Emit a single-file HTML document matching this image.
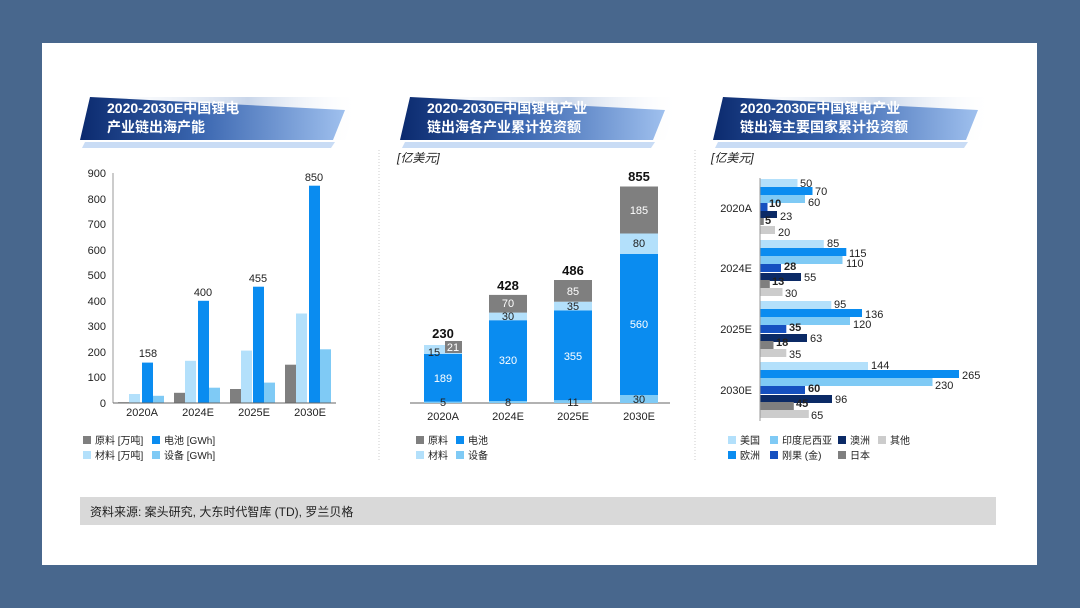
<!DOCTYPE html>
<html><head><meta charset="utf-8"><style>
body{margin:0;width:1080px;height:608px;background:#48678d;overflow:hidden}
svg{display:block}
text{font-family:"Liberation Sans","Noto Sans CJK SC",sans-serif}
</style></head><body>
<svg width="1080" height="608" viewBox="0 0 1080 608">
<defs>
<linearGradient id="g" x1="0" x2="1" y1="0" y2="0">
<stop offset="0" stop-color="#0b2a6e"/><stop offset="0.45" stop-color="#3a66b0"/><stop offset="1" stop-color="#9fc0ee"/></linearGradient>
<linearGradient id="g2" x1="0" x2="1"><stop offset="0" stop-color="#ffffff" stop-opacity="0"/><stop offset="0.6" stop-color="#c9d6ea"/><stop offset="1" stop-color="#ffffff" stop-opacity="0"/></linearGradient>
</defs>
<rect x="42" y="43" width="995" height="522" fill="#fff"/>
<!-- banners -->
<g>
<polygon points="90,97 360,97 345,140 80,140" fill="url(#g2)"/>
<polygon points="90,97 345,110 333,140 80,140" fill="url(#g)"/>
<polygon points="85,142 335,142 331,148 82,148" fill="#c9dcf5"/>
<text x="107" y="113" font-size="14" font-weight="bold" fill="#fff">2020-2030E中国锂电</text>
<text x="107" y="132" font-size="14" font-weight="bold" fill="#fff">产业链出海产能</text>
</g>
<g transform="translate(320,0)">
<polygon points="90,97 360,97 345,140 80,140" fill="url(#g2)"/>
<polygon points="90,97 345,110 333,140 80,140" fill="url(#g)"/>
<polygon points="85,142 335,142 331,148 82,148" fill="#c9dcf5"/>
<text x="107" y="113" font-size="14" font-weight="bold" fill="#fff">2020-2030E中国锂电产业</text>
<text x="107" y="132" font-size="14" font-weight="bold" fill="#fff">链出海各产业累计投资额</text>
</g>
<g transform="translate(633,0)">
<polygon points="90,97 360,97 345,140 80,140" fill="url(#g2)"/>
<polygon points="90,97 345,110 333,140 80,140" fill="url(#g)"/>
<polygon points="85,142 335,142 331,148 82,148" fill="#c9dcf5"/>
<text x="107" y="113" font-size="14" font-weight="bold" fill="#fff">2020-2030E中国锂电产业</text>
<text x="107" y="132" font-size="14" font-weight="bold" fill="#fff">链出海主要国家累计投资额</text>
</g>
<line x1="379" y1="150" x2="379" y2="462" stroke="#ccc" stroke-dasharray="1,2"/>
<line x1="695" y1="150" x2="695" y2="462" stroke="#ccc" stroke-dasharray="1,2"/>

<!-- LEFT chart -->
<g font-size="11" fill="#222">
<g text-anchor="end">
<text x="106" y="407">0</text><text x="106" y="381">100</text><text x="106" y="356">200</text><text x="106" y="330">300</text><text x="106" y="305">400</text><text x="106" y="279">500</text><text x="106" y="254">600</text><text x="106" y="228">700</text><text x="106" y="203">800</text><text x="106" y="177">900</text>
</g>
<line x1="113" y1="173" x2="113" y2="403" stroke="#999"/>
<!-- 2020A -->
<rect x="118" y="402.2" width="11" height="0.8" fill="#7f7f7f"/>
<rect x="129" y="394" width="11" height="9" fill="#b3e0fb"/>
<rect x="142" y="362.6" width="11" height="40.4" fill="#0a8cf0"/>
<rect x="153" y="395.8" width="11" height="7.2" fill="#7fcaf5"/>
<text x="148" y="357" text-anchor="middle">158</text>
<!-- 2024E -->
<rect x="174" y="392.8" width="11" height="10.2" fill="#7f7f7f"/>
<rect x="185" y="360.8" width="11" height="42.2" fill="#b3e0fb"/>
<rect x="198" y="300.8" width="11" height="102.2" fill="#0a8cf0"/>
<rect x="209" y="387.7" width="11" height="15.3" fill="#7fcaf5"/>
<text x="203" y="296" text-anchor="middle">400</text>
<!-- 2025E -->
<rect x="230" y="389" width="11" height="14" fill="#7f7f7f"/>
<rect x="241" y="350.6" width="11" height="52.4" fill="#b3e0fb"/>
<rect x="253" y="286.7" width="11" height="116.3" fill="#0a8cf0"/>
<rect x="264" y="382.6" width="11" height="20.4" fill="#7fcaf5"/>
<text x="258" y="282" text-anchor="middle">455</text>
<!-- 2030E -->
<rect x="285" y="364.7" width="11" height="38.3" fill="#7f7f7f"/>
<rect x="296" y="313.5" width="11" height="89.5" fill="#b3e0fb"/>
<rect x="309" y="185.7" width="11" height="217.3" fill="#0a8cf0"/>
<rect x="320" y="349.3" width="11" height="53.7" fill="#7fcaf5"/>
<text x="314" y="181" text-anchor="middle">850</text>
<line x1="113" y1="403" x2="336" y2="403" stroke="#666"/>
<g text-anchor="middle"><text x="142" y="416">2020A</text><text x="198" y="416">2024E</text><text x="254" y="416">2025E</text><text x="310" y="416">2030E</text></g>
<g font-size="10">
<rect x="83" y="436" width="8" height="8" fill="#7f7f7f"/><text x="95" y="444">原料 [万吨]</text>
<rect x="152" y="436" width="8" height="8" fill="#0a8cf0"/><text x="164" y="444">电池 [GWh]</text>
<rect x="83" y="451" width="8" height="8" fill="#b3e0fb"/><text x="95" y="459">材料 [万吨]</text>
<rect x="152" y="451" width="8" height="8" fill="#7fcaf5"/><text x="164" y="459">设备 [GWh]</text>
</g>
</g>

<!-- MIDDLE chart -->
<g font-size="11">
<text x="397" y="162" font-size="12" font-style="italic" fill="#222">[亿美元]</text>
<line x1="410" y1="403" x2="670" y2="403" stroke="#666"/>
<!-- 2020A -->
<rect x="424" y="401.7" width="38" height="1.3" fill="#7fcaf5"/>
<rect x="424" y="354" width="38" height="47.7" fill="#0a8cf0"/>
<rect x="424" y="345" width="38" height="9" fill="#b3e0fb"/>
<rect x="445" y="341" width="17" height="12" fill="#7f7f7f"/>
<text x="443" y="406" text-anchor="middle" fill="#222">5</text>
<text x="443" y="382" text-anchor="middle" fill="#fff">189</text>
<text x="434" y="356" text-anchor="middle" fill="#222">15</text>
<text x="453" y="351" text-anchor="middle" fill="#fff">21</text>
<text x="443" y="338" text-anchor="middle" font-weight="bold" font-size="13" fill="#111">230</text>
<!-- 2024E -->
<rect x="489" y="401" width="38" height="2" fill="#7fcaf5"/>
<rect x="489" y="320.2" width="38" height="80.8" fill="#0a8cf0"/>
<rect x="489" y="312.6" width="38" height="7.6" fill="#b3e0fb"/>
<rect x="489" y="294.9" width="38" height="17.7" fill="#7f7f7f"/>
<text x="508" y="406" text-anchor="middle" fill="#222">8</text>
<text x="508" y="364" text-anchor="middle" fill="#fff">320</text>
<text x="508" y="320" text-anchor="middle" fill="#222">30</text>
<text x="508" y="307" text-anchor="middle" fill="#fff">70</text>
<text x="508" y="290" text-anchor="middle" font-weight="bold" font-size="13" fill="#111">428</text>
<!-- 2025E -->
<rect x="554" y="400.2" width="38" height="2.8" fill="#7fcaf5"/>
<rect x="554" y="310.5" width="38" height="89.7" fill="#0a8cf0"/>
<rect x="554" y="301.7" width="38" height="8.8" fill="#b3e0fb"/>
<rect x="554" y="280" width="38" height="21.7" fill="#7f7f7f"/>
<text x="573" y="406" text-anchor="middle" fill="#222">11</text>
<text x="573" y="360" text-anchor="middle" fill="#fff">355</text>
<text x="573" y="310" text-anchor="middle" fill="#222">35</text>
<text x="573" y="295" text-anchor="middle" fill="#fff">85</text>
<text x="573" y="275" text-anchor="middle" font-weight="bold" font-size="13" fill="#111">486</text>
<!-- 2030E -->
<rect x="620" y="395" width="38" height="8" fill="#7fcaf5"/>
<rect x="620" y="254" width="38" height="141" fill="#0a8cf0"/>
<rect x="620" y="233.5" width="38" height="20.5" fill="#b3e0fb"/>
<rect x="620" y="186.5" width="38" height="47" fill="#7f7f7f"/>
<text x="639" y="403" text-anchor="middle" fill="#222">30</text>
<text x="639" y="328" text-anchor="middle" fill="#fff">560</text>
<text x="639" y="247" text-anchor="middle" fill="#222">80</text>
<text x="639" y="214" text-anchor="middle" fill="#fff">185</text>
<text x="639" y="181" text-anchor="middle" font-weight="bold" font-size="13" fill="#111">855</text>
<g text-anchor="middle" fill="#222"><text x="443" y="420">2020A</text><text x="508" y="420">2024E</text><text x="573" y="420">2025E</text><text x="639" y="420">2030E</text></g>
<g font-size="10" fill="#222">
<rect x="416" y="436" width="8" height="8" fill="#7f7f7f"/><text x="428" y="444">原料</text>
<rect x="456" y="436" width="8" height="8" fill="#0a8cf0"/><text x="468" y="444">电池</text>
<rect x="416" y="451" width="8" height="8" fill="#b3e0fb"/><text x="428" y="459">材料</text>
<rect x="456" y="451" width="8" height="8" fill="#7fcaf5"/><text x="468" y="459">设备</text>
</g>
</g>

<!-- RIGHT chart -->
<g font-size="11" fill="#222">
<text x="711" y="162" font-size="12" font-style="italic">[亿美元]</text>
<g text-anchor="end"><text x="752" y="212">2020A</text><text x="752" y="272">2024E</text><text x="752" y="333">2025E</text><text x="752" y="394">2030E</text></g>
<!-- 2020A top 179 -->
<rect x="760" y="179" width="37.5" height="8" fill="#b3e0fb"/><text x="800" y="187">50</text>
<rect x="760" y="187" width="52.5" height="8" fill="#0a8cf0"/><text x="815" y="195">70</text>
<rect x="760" y="195" width="45" height="8" fill="#7fcaf5"/><text x="808" y="206">60</text>
<rect x="760" y="203" width="7.5" height="8" fill="#1550c0"/><text x="769" y="207" font-weight="bold">10</text>
<rect x="760" y="211" width="17" height="7" fill="#0b2a66"/><text x="780" y="220">23</text>
<rect x="760" y="218" width="3.8" height="7" fill="#7f7f7f"/><text x="765" y="224" font-weight="bold">5</text>
<rect x="760" y="226" width="15" height="8" fill="#cccccc"/><text x="778" y="236">20</text>
<!-- 2024E top 240 -->
<rect x="760" y="240" width="63.8" height="8" fill="#b3e0fb"/><text x="827" y="247">85</text>
<rect x="760" y="248" width="86.3" height="8" fill="#0a8cf0"/><text x="849" y="257">115</text>
<rect x="760" y="256" width="82.5" height="8" fill="#7fcaf5"/><text x="846" y="267">110</text>
<rect x="760" y="264" width="21" height="8" fill="#1550c0"/><text x="784" y="270" font-weight="bold">28</text>
<rect x="760" y="273" width="41" height="8" fill="#0b2a66"/><text x="804" y="281">55</text>
<rect x="760" y="280" width="9.8" height="8" fill="#7f7f7f"/><text x="772" y="285" font-weight="bold">13</text>
<rect x="760" y="288" width="22.5" height="8" fill="#cccccc"/><text x="785" y="297">30</text>
<!-- 2025E top 301 -->
<rect x="760" y="301" width="71.3" height="8" fill="#b3e0fb"/><text x="834" y="308">95</text>
<rect x="760" y="309" width="102" height="8" fill="#0a8cf0"/><text x="865" y="318">136</text>
<rect x="760" y="317" width="90" height="8" fill="#7fcaf5"/><text x="853" y="328">120</text>
<rect x="760" y="325" width="26.3" height="8" fill="#1550c0"/><text x="789" y="331" font-weight="bold">35</text>
<rect x="760" y="334" width="47" height="8" fill="#0b2a66"/><text x="810" y="342">63</text>
<rect x="760" y="341" width="13.5" height="8" fill="#7f7f7f"/><text x="776" y="346" font-weight="bold">18</text>
<rect x="760" y="349" width="26.3" height="8" fill="#cccccc"/><text x="789" y="358">35</text>
<!-- 2030E top 363 -->
<rect x="760" y="362" width="108" height="8" fill="#b3e0fb"/><text x="871" y="369">144</text>
<rect x="760" y="370" width="199" height="8" fill="#0a8cf0"/><text x="962" y="379">265</text>
<rect x="760" y="378" width="172.5" height="8" fill="#7fcaf5"/><text x="935" y="389">230</text>
<rect x="760" y="386" width="45" height="8" fill="#1550c0"/><text x="808" y="392" font-weight="bold">60</text>
<rect x="760" y="395" width="72" height="8" fill="#0b2a66"/><text x="835" y="403">96</text>
<rect x="760" y="402" width="33.8" height="8" fill="#7f7f7f"/><text x="796" y="407" font-weight="bold">45</text>
<rect x="760" y="410" width="48.8" height="8" fill="#cccccc"/><text x="811" y="419">65</text>
<line x1="760" y1="178" x2="760" y2="421" stroke="#999"/>
<g font-size="10">
<rect x="728" y="436" width="8" height="8" fill="#b3e0fb"/><text x="740" y="444">美国</text>
<rect x="770" y="436" width="8" height="8" fill="#7fcaf5"/><text x="782" y="444">印度尼西亚</text>
<rect x="838" y="436" width="8" height="8" fill="#0b2a66"/><text x="850" y="444">澳洲</text>
<rect x="878" y="436" width="8" height="8" fill="#cccccc"/><text x="890" y="444">其他</text>
<rect x="728" y="451" width="8" height="8" fill="#0a8cf0"/><text x="740" y="459">欧洲</text>
<rect x="770" y="451" width="8" height="8" fill="#1550c0"/><text x="782" y="459">刚果 (金)</text>
<rect x="838" y="451" width="8" height="8" fill="#7f7f7f"/><text x="850" y="459">日本</text>
</g>
</g>

<rect x="80" y="497" width="916" height="28" fill="#d9d9d9"/>
<text x="90" y="516" font-size="12" fill="#222">资料来源: 案头研究, 大东时代智库 (TD), 罗兰贝格</text>
</svg>
</body></html>
